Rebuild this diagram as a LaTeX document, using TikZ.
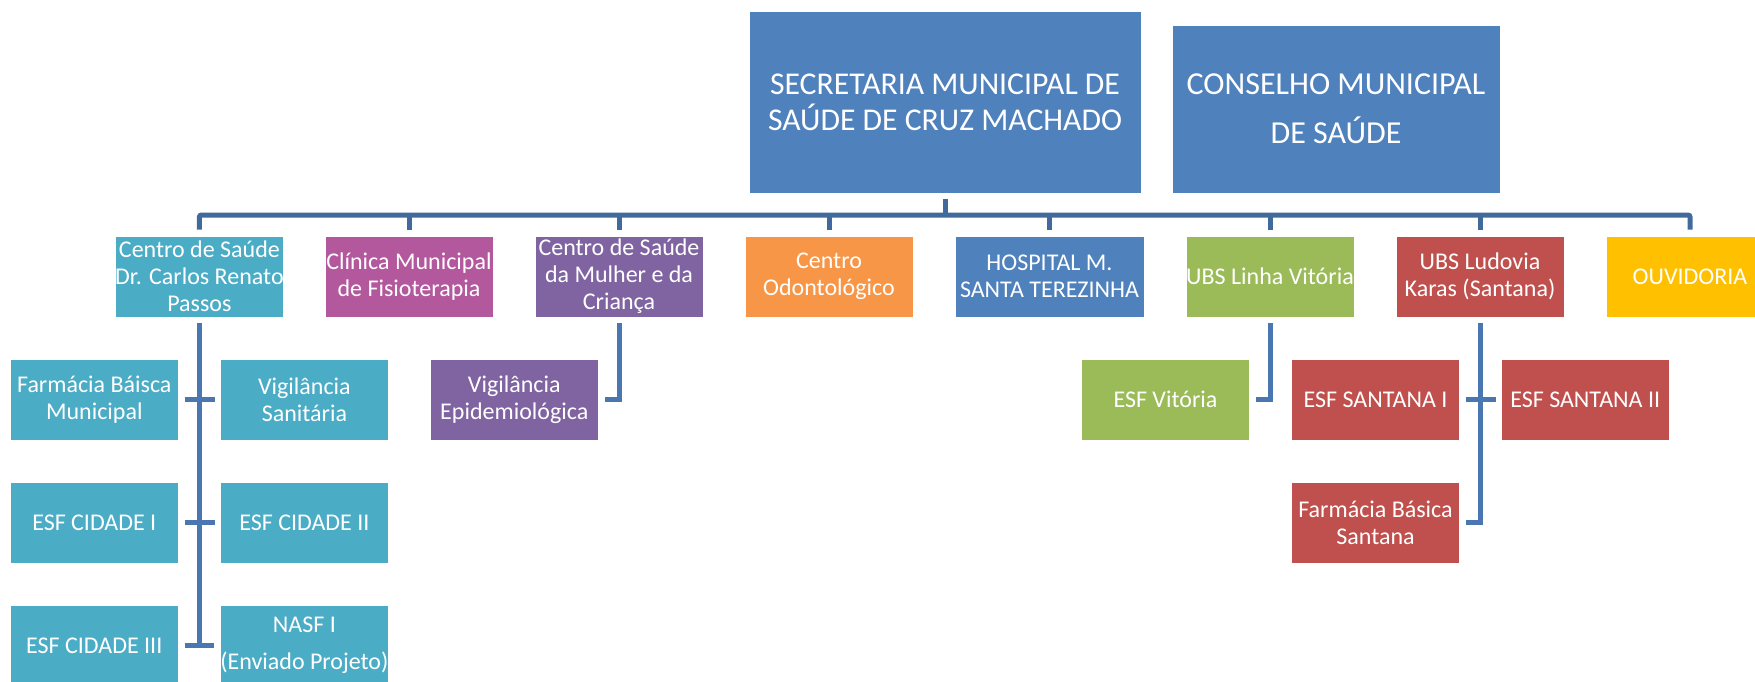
\documentclass[tikz,border=0pt]{standalone}
\usepackage{fontspec}
\setmainfont{Carlito}
\definecolor{cblue}{RGB}{79,129,189}
\definecolor{cteal}{RGB}{75,172,198}
\definecolor{cpink}{RGB}{180,88,158}
\definecolor{cpurple}{RGB}{128,100,162}
\definecolor{corange}{RGB}{247,150,70}
\definecolor{cgreen}{RGB}{155,187,89}
\definecolor{cred}{RGB}{192,80,77}
\definecolor{cyellow}{RGB}{255,192,0}
\definecolor{linedark}{RGB}{64,106,156}
\definecolor{linemid}{RGB}{74,118,178}
\begin{document}
\begin{tikzpicture}[x=1pt,y=-1pt,
  box/.style={draw=white, line width=0.8pt, inner sep=0pt, align=center, text=white,
    minimum height=81pt, minimum width=168pt, font=\fontsize{24}{27}\selectfont},
  bigbox/.style={draw=white, line width=0.8pt, inner sep=0pt, align=center, text=white,
    fill=cblue, font=\fontsize{31.7}{36}\selectfont},
  busline/.style={draw=linedark, line width=5pt, rounded corners=2pt},
  conn/.style={draw=linemid, line width=5pt}]
\useasboundingbox (0,0) rectangle (1755,681);
\clip (0,0) rectangle (1755,681);

% top level
\node[bigbox, minimum width=392pt, minimum height=182pt] (sec) at (945,102)
  {SECRETARIA MUNICIPAL DE\\SAÚDE DE CRUZ MACHADO};
\node[bigbox, minimum width=328pt, minimum height=168pt, font=\fontsize{32}{49}\selectfont] (cons) at (1336,109)
  {CONSELHO MUNICIPAL\\DE SAÚDE};

% second level
\node[box, fill=cteal] (cs) at (199.4,276.5) {Centro de Saúde\\Dr. Carlos Renato\\Passos};
\node[box, fill=cpink] (cli) at (409,276.5) {Clínica Municipal\\de Fisioterapia};
\node[box, fill=cpurple] (mul) at (619,276.5) {Centro de Saúde\\da Mulher e da\\Criança};
\node[box, fill=corange] (odo) at (829,276.5) {Centro\\Odontológico};
\node[box, fill=cblue, minimum width=189pt] (hos) at (1049.5,276.5) {HOSPITAL M.\\SANTA TEREZINHA};
\node[box, fill=cgreen] (ubsl) at (1270,276.5) {UBS Linha Vitória};
\node[box, fill=cred] (ubsk) at (1480,276.5) {UBS Ludovia\\Karas (Santana)};
\node[box, fill=cyellow] (ouv) at (1690,276.5) {OUVIDORIA};

% third level
\node[box, fill=cteal] (farm) at (94.3,399.5) {Farmácia Báisca\\Municipal};
\node[box, fill=cteal] (vsan) at (304.4,399.5) {Vigilância\\Sanitária};
\node[box, fill=cteal] (esf1) at (94.3,522.5) {ESF CIDADE I};
\node[box, fill=cteal] (esf2) at (304.4,522.5) {ESF CIDADE II};
\node[box, fill=cteal] (esf3) at (94.3,645.5) {ESF CIDADE III};
\node[box, fill=cteal, font=\fontsize{24}{37}\selectfont] (nasf) at (304.4,645.5) {NASF I\\(Enviado Projeto)};
\node[box, fill=cpurple] (vepi) at (514.3,399.5) {Vigilância\\Epidemiológica};
\node[box, fill=cgreen] (esfv) at (1165.5,399.5) {ESF Vitória};
\node[box, fill=cred] (esfs1) at (1375.5,399.5) {ESF SANTANA I};
\node[box, fill=cred] (esfs2) at (1585.2,399.5) {ESF SANTANA II};
\node[box, fill=cred] (farms) at (1375.5,522.5) {Farmácia Básica\\Santana};

% bus
\coordinate (busy) at (0,215);
\draw[busline] ([yshift=-6pt]sec.south) -- (sec.south |- busy);
\draw[busline] ([yshift=6pt]cs.north) -- (cs.north |- busy) -- (ouv.north |- busy) -- ([yshift=6pt]ouv.north);
\foreach \n in {cli,mul,odo,hos,ubsl,ubsk}
  \draw[busline] (\n.north |- busy) -- ([yshift=6pt]\n.north);

% Centro de Saude branch
\draw[conn] ([yshift=-6pt]cs.south) -- ([yshift=-2.5pt]cs.south |- esf3.east);
\draw[conn] ([xshift=6pt]farm.east) -- ([xshift=-5.5pt]vsan.west);
\draw[conn] ([xshift=6pt]esf1.east) -- ([xshift=-5.5pt]esf2.west);
\draw[conn] ([xshift=6pt]esf3.east) -- ([xshift=-5.5pt]nasf.west);

% Mulher branch
\draw[conn] ([yshift=-6pt]mul.south) -- (mul.south |- vepi.east) -- ([xshift=6pt]vepi.east);

% UBS Linha Vitoria branch
\draw[conn] ([yshift=-6pt]ubsl.south) -- (ubsl.south |- esfv.east) -- ([xshift=6pt]esfv.east);

% UBS Ludovia branch
\draw[conn] ([yshift=-6pt]ubsk.south) -- (ubsk.south |- farms.east) -- ([xshift=6pt]farms.east);
\draw[conn] ([xshift=6pt]esfs1.east) -- ([xshift=-5pt]esfs2.west);
\end{tikzpicture}
\end{document}
